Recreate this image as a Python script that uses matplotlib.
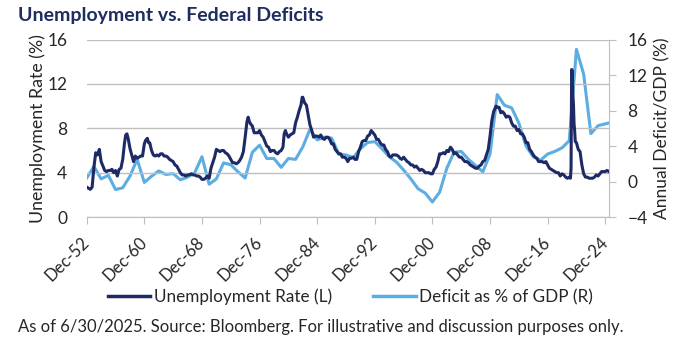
import matplotlib
matplotlib.use("Agg")
import matplotlib.pyplot as plt
from matplotlib.lines import Line2D

plt.rcParams['font.family'] = ['Lato', 'DejaVu Sans']

# Unemployment rate (%), left axis
unemp_dates = [
    "1952-12", "1953-03", "1953-06", "1953-09", "1953-12",
    "1954-03", "1954-06", "1954-09", "1954-12",
    "1955-03", "1955-06", "1955-09", "1955-12",
    "1956-03", "1956-06", "1956-09", "1956-12",
    "1957-03", "1957-06", "1957-09", "1957-12",
    "1958-03", "1958-05", "1958-07", "1958-09", "1958-12",
    "1959-03", "1959-06", "1959-09", "1959-12",
    "1960-03", "1960-06", "1960-09", "1960-12",
    "1961-02", "1961-05", "1961-07", "1961-09", "1961-12",
    "1962-03", "1962-06", "1962-09", "1962-12",
    "1963-03", "1963-06", "1963-09", "1963-12",
    "1964-03", "1964-06", "1964-09", "1964-12",
    "1965-03", "1965-06", "1965-09", "1965-12",
    "1966-03", "1966-06", "1966-09", "1966-12",
    "1967-03", "1967-06", "1967-09", "1967-12",
    "1968-03", "1968-06", "1968-09", "1968-12",
    "1969-03", "1969-06", "1969-09", "1969-12",
    "1970-03", "1970-06", "1970-09", "1970-12",
    "1971-03", "1971-06", "1971-09", "1971-12",
    "1972-03", "1972-06", "1972-09", "1972-12",
    "1973-03", "1973-06", "1973-09", "1973-12",
    "1974-03", "1974-06", "1974-09", "1974-12",
    "1975-03", "1975-05", "1975-07", "1975-09", "1975-12",
    "1976-03", "1976-06", "1976-09", "1976-12",
    "1977-03", "1977-06", "1977-09", "1977-12",
    "1978-03", "1978-06", "1978-09", "1978-12",
    "1979-03", "1979-06", "1979-09", "1979-12",
    "1980-03", "1980-05", "1980-07", "1980-09", "1980-12",
    "1981-03", "1981-06", "1981-09", "1981-12",
    "1982-03", "1982-06", "1982-09", "1982-11", "1982-12",
    "1983-03", "1983-06", "1983-09", "1983-12",
    "1984-03", "1984-06", "1984-09", "1984-12",
    "1985-03", "1985-06", "1985-09", "1985-12",
    "1986-03", "1986-06", "1986-09", "1986-12",
    "1987-03", "1987-06", "1987-09", "1987-12",
    "1988-03", "1988-06", "1988-09", "1988-12",
    "1989-03", "1989-06", "1989-09", "1989-12",
    "1990-03", "1990-06", "1990-09", "1990-12",
    "1991-03", "1991-06", "1991-09", "1991-12",
    "1992-03", "1992-06", "1992-09", "1992-12",
    "1993-03", "1993-06", "1993-09", "1993-12",
    "1994-03", "1994-06", "1994-09", "1994-12",
    "1995-03", "1995-06", "1995-09", "1995-12",
    "1996-03", "1996-06", "1996-09", "1996-12",
    "1997-03", "1997-06", "1997-09", "1997-12",
    "1998-03", "1998-06", "1998-09", "1998-12",
    "1999-03", "1999-06", "1999-09", "1999-12",
    "2000-03", "2000-06", "2000-09", "2000-12",
    "2001-03", "2001-06", "2001-09", "2001-12",
    "2002-03", "2002-06", "2002-09", "2002-12",
    "2003-03", "2003-06", "2003-09", "2003-12",
    "2004-03", "2004-06", "2004-09", "2004-12",
    "2005-03", "2005-06", "2005-09", "2005-12",
    "2006-03", "2006-06", "2006-09", "2006-12",
    "2007-03", "2007-06", "2007-09", "2007-12",
    "2008-03", "2008-06", "2008-09", "2008-12",
    "2009-03", "2009-06", "2009-10", "2009-12",
    "2010-03", "2010-06", "2010-09", "2010-12",
    "2011-03", "2011-06", "2011-09", "2011-12",
    "2012-03", "2012-06", "2012-09", "2012-12",
    "2013-03", "2013-06", "2013-09", "2013-12",
    "2014-03", "2014-06", "2014-09", "2014-12",
    "2015-03", "2015-06", "2015-09", "2015-12",
    "2016-03", "2016-06", "2016-09", "2016-12",
    "2017-03", "2017-06", "2017-09", "2017-12",
    "2018-03", "2018-06", "2018-09", "2018-12",
    "2019-03", "2019-06", "2019-09", "2019-12",
    "2020-02", "2020-03", "2020-04", "2020-05", "2020-06", "2020-07",
    "2020-08", "2020-09", "2020-10", "2020-12",
    "2021-03", "2021-06", "2021-09", "2021-12",
    "2022-03", "2022-06", "2022-09", "2022-12",
    "2023-03", "2023-06", "2023-09", "2023-12",
    "2024-03", "2024-06", "2024-09", "2024-12",
    "2025-03", "2025-06",
]
unemp_rate = [
    2.7, 2.6, 2.5, 2.7, 4.5,
    5.8, 5.6, 6.1, 5.0,
    4.6, 4.2, 4.1, 4.2,
    4.2, 4.3, 4.0, 4.2,
    3.7, 4.3, 4.4, 5.2,
    6.7, 7.4, 7.5, 7.1, 6.2,
    5.6, 5.0, 5.5, 5.3,
    5.4, 5.5, 5.5, 6.6,
    6.9, 7.1, 6.7, 6.7, 6.0,
    5.6, 5.5, 5.6, 5.5,
    5.7, 5.7, 5.5, 5.5,
    5.4, 5.2, 5.1, 5.0,
    4.7, 4.6, 4.3, 4.0,
    3.8, 3.8, 3.7, 3.8,
    3.8, 3.9, 3.8, 3.8,
    3.7, 3.7, 3.6, 3.4,
    3.4, 3.5, 3.7, 3.5,
    4.4, 4.9, 5.4, 6.1,
    6.0, 5.9, 6.0, 6.0,
    5.8, 5.7, 5.5, 5.2,
    4.9, 4.9, 4.8, 4.9,
    5.1, 5.4, 5.9, 7.2,
    8.6, 9.0, 8.6, 8.4, 8.2,
    7.6, 7.6, 7.6, 7.8,
    7.4, 7.2, 6.8, 6.4,
    6.3, 5.9, 6.0, 6.0,
    5.8, 5.7, 5.9, 6.0,
    6.3, 7.5, 7.8, 7.5, 7.2,
    7.4, 7.5, 7.6, 8.5,
    9.0, 9.6, 10.1, 10.8, 10.8,
    10.3, 10.1, 9.2, 8.3,
    7.8, 7.2, 7.3, 7.3,
    7.2, 7.4, 7.1, 7.0,
    7.2, 7.2, 7.0, 6.6,
    6.6, 6.1, 5.9, 5.7,
    5.7, 5.4, 5.4, 5.3,
    5.0, 5.3, 5.3, 5.4,
    5.2, 5.2, 5.9, 6.3,
    6.8, 6.9, 6.9, 7.3,
    7.4, 7.8, 7.6, 7.4,
    7.0, 7.0, 6.7, 6.5,
    6.5, 6.1, 5.9, 5.5,
    5.4, 5.6, 5.6, 5.6,
    5.5, 5.3, 5.2, 5.4,
    5.2, 5.0, 4.9, 4.7,
    4.7, 4.5, 4.6, 4.4,
    4.2, 4.3, 4.2, 4.0,
    4.0, 4.0, 3.9, 3.9,
    4.3, 4.5, 5.0, 5.7,
    5.7, 5.8, 5.7, 6.0,
    5.9, 6.3, 6.1, 5.7,
    5.8, 5.6, 5.4, 5.4,
    5.2, 5.0, 5.0, 4.9,
    4.7, 4.6, 4.5, 4.4,
    4.4, 4.6, 4.7, 5.0,
    5.1, 5.6, 6.1, 7.3,
    8.7, 9.5, 10.0, 9.9,
    9.9, 9.4, 9.5, 9.3,
    9.0, 9.1, 9.0, 8.5,
    8.2, 8.2, 7.8, 7.9,
    7.5, 7.5, 7.2, 6.7,
    6.7, 6.1, 5.9, 5.6,
    5.4, 5.3, 5.0, 5.0,
    5.0, 4.9, 5.0, 4.7,
    4.4, 4.3, 4.2, 4.1,
    4.0, 4.0, 3.7, 3.9,
    3.8, 3.6, 3.5, 3.6,
    3.5, 4.4, 13.3, 13.2, 11.0, 10.2,
    8.4, 7.8, 6.8, 6.7,
    6.1, 5.9, 4.7, 3.9,
    3.6, 3.6, 3.5, 3.5,
    3.5, 3.6, 3.8, 3.7,
    3.9, 4.1, 4.1, 4.1,
    4.2, 4.1,
]

# Federal deficit as % of GDP, right axis (annual, plotted at December)
deficit_dates = [f"{y}-12" for y in range(1952, 2025)] + ["2025-06"]
deficit_pct = [
    0.4, 1.7, 0.3, 0.7, -0.9, -0.7, 0.6, 2.5,            # 1952-1959
    -0.1, 0.6, 1.2, 0.8, 0.9, 0.2, 0.5, 1.0, 2.8, -0.3,  # 1960-1969
    0.3, 2.1, 1.9, 1.1, 0.4, 3.3, 4.1, 2.6, 2.6, 1.6,    # 1970-1979
    2.6, 2.5, 3.9, 5.9, 4.7, 5.0, 4.9, 3.1, 3.0, 2.7,    # 1980-1989
    3.7, 4.4, 4.5, 3.7, 2.8, 2.2, 1.3, 0.3, -0.8, -1.3,  # 1990-1999
    -2.3, -1.2, 1.5, 3.3, 3.4, 2.5, 1.8, 1.1, 3.1, 9.8,  # 2000-2009
    8.6, 8.3, 6.6, 4.0, 2.8, 2.4, 3.1, 3.4, 3.8, 4.6,    # 2010-2019
    14.9, 12.1, 5.4, 6.3, 6.5,                            # 2020-2024
    6.6,                                                  # mid-2025
]

tick_years = list(range(1952, 2025, 8))
tick_labels = [f"Dec-{y % 100:02d}" for y in tick_years]

NAVY = "#1E2A66"
LIGHT = "#5BADE2"
GRID = "#BFBFBF"
TEXT = "#262626"


def to_year(s):
    y, m = s.split("-")
    return int(y) + (int(m) - 1) / 12


ux = [to_year(d) for d in unemp_dates]
dx = [to_year(d) for d in deficit_dates]

fig = plt.figure(figsize=(6.91, 3.44), dpi=100)
ax = fig.add_axes([0.1255, 0.369, 0.7565, 0.516])
ax2 = ax.twinx()

ax.plot(ux, unemp_rate, color=NAVY, lw=2.2, zorder=3, solid_joinstyle="round")
ax2.plot(dx, deficit_pct, color=LIGHT, lw=2.2, zorder=2, solid_joinstyle="round")
ax.set_zorder(ax2.get_zorder() + 1)
ax.patch.set_visible(False)

ax.set_xlim(to_year("1952-12"), to_year("2025-07"))
ax.set_ylim(0, 16)
ax.set_yticks([0, 4, 8, 12, 16])
ax2.set_ylim(-4, 16)
ax2.set_yticks([-4, 0, 4, 8, 12, 16])

ax.yaxis.grid(True, color=GRID, lw=1)
ax.set_axisbelow(True)

ax.set_xticks([y + 11 / 12 for y in tick_years])
ax.set_xticklabels(tick_labels, rotation=45, ha="right", va="center",
                   rotation_mode="anchor")

for a in (ax, ax2):
    for s in ("top", "left", "right", "bottom"):
        a.spines[s].set_visible(False)
ax.spines["bottom"].set_visible(True)
ax.spines["bottom"].set_color(GRID)
ax2.spines["right"].set_visible(True)
ax2.spines["right"].set_color(GRID)

ax.tick_params(axis="x", colors=GRID, labelcolor=TEXT, length=5, labelsize=12, pad=11)
ax.tick_params(axis="y", length=0, labelcolor=TEXT, labelsize=12.5, pad=14)
ax2.tick_params(axis="y", colors=GRID, labelcolor=TEXT, length=5, labelsize=12.5, pad=8)

ax.set_ylabel("Unemployment Rate (%)", fontsize=12.8, color=TEXT, labelpad=1)
ax2.set_ylabel("Annual Deficit/GDP (%)", fontsize=12.5, color=TEXT, labelpad=5)

fig.text(0.026, 0.955, "Unemployment vs. Federal Deficits", fontsize=14,
         fontweight="bold", color="#1F2D5E", va="center")

handles = [Line2D([], [], color=NAVY, lw=2.5), Line2D([], [], color=LIGHT, lw=2.5)]
fig.legend(handles, ["Unemployment Rate (L)", "Deficit as % of GDP (R)"],
           loc="center", bbox_to_anchor=(0.507, 0.137), ncol=2, frameon=False,
           fontsize=12.3, handlelength=2.5, handletextpad=0.2, columnspacing=2.4,
           labelcolor=TEXT)

fig.text(0.026, 0.05, "As of 6/30/2025. Source: Bloomberg. For illustrative and discussion purposes only.",
         fontsize=12, color=TEXT, va="center")

fig.savefig("out.png", dpi=100)
